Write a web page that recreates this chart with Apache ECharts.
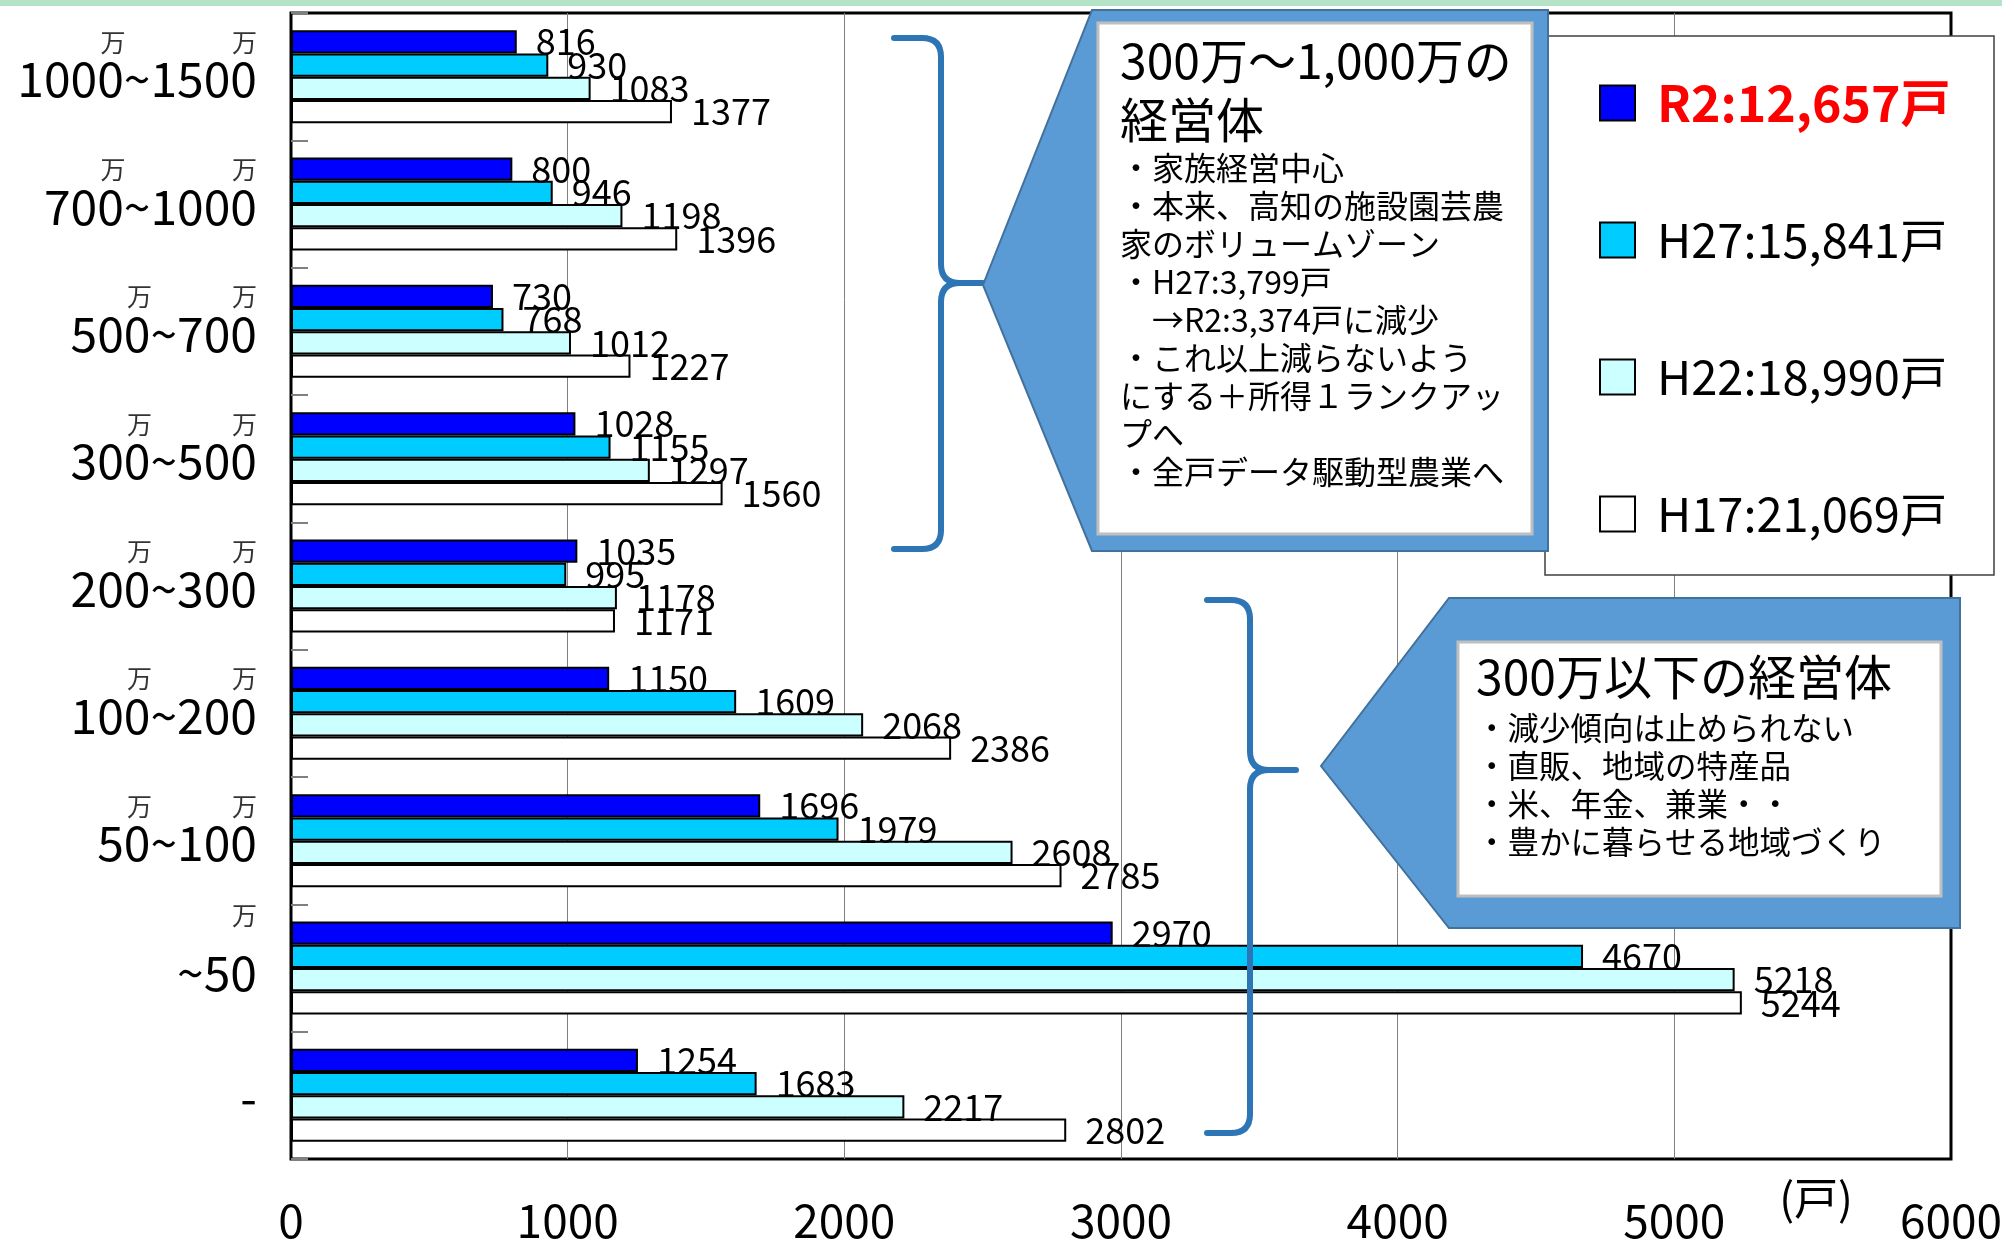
<!DOCTYPE html>
<html>
<head>
<meta charset="utf-8">
<script src="https://cdn.jsdelivr.net/npm/echarts@6/dist/echarts.min.js"></script>
<style>
html, body { margin: 0; padding: 0; background: #fff; }
#chart { width: 2002px; height: 1242px; }
</style>
</head>
<body>
<div id="chart"></div>
<script>
// 所得階層（上から）
const categories = ['1000~1500', '700~1000', '500~700', '300~500', '200~300', '100~200', '50~100', '~50', '-'];
const seriesNames = ['R2:12,657戸', 'H27:15,841戸', 'H22:18,990戸', 'H17:21,069戸'];
const r2 = [816, 800, 730, 1028, 1035, 1150, 1696, 2970, 1254];
const h27 = [930, 946, 768, 1155, 995, 1609, 1979, 4670, 1683];
const h22 = [1083, 1198, 1012, 1297, 1178, 2068, 2608, 5218, 2217];
const h17 = [1377, 1396, 1227, 1560, 1171, 2386, 2785, 5244, 2802];
const seriesData = [r2, h27, h22, h17];
const seriesColors = ['#0000FF', '#00CCFF', '#CCFFFF', '#FFFFFF'];
const unitName = '(戸)';

const note1 = ['300万～1,000万の', '経営体'];
const note1Items = ['・家族経営中心', '・本来、高知の施設園芸農', '家のボリュームゾーン', '・H27:3,799戸', '　→R2:3,374戸に減少', '・これ以上減らないよう', 'にする＋所得１ランクアッ', 'プへ', '・全戸データ駆動型農業へ'];
const note2 = '300万以下の経営体';
const note2Items = ['・減少傾向は止められない', '・直販、地域の特産品', '・米、年金、兼業・・', '・豊かに暮らせる地域づくり'];

const FONT = "'Noto Sans CJK JP', sans-serif";

const myChart = echarts.init(document.getElementById('chart'));

// 軸ラベル：上段に小さい「万」
function yLabel(value) {
  if (value === '-') return '{m| }\n{b|-}\n{e| }';
  let parts = value.split('~');
  if (parts[0] === '') return '{mt|万}\n{b|' + value + '}\n{e2| }';
  return '{m|万}{sp|~' + parts[1].slice(0, -1) + '}{m|万}\n{b|' + value + '}\n{e| }';
}

// 中括弧「}」を線と曲線で組み立てる
function brace(xl, xv, xt, top, mid, bottom) {
  let r = 19;
  let st = { stroke: '#2E75B6', lineWidth: 6, lineCap: 'round', fill: null };
  let line = (x1, y1, x2, y2) => ({ type: 'line', z: 100, shape: { x1, y1, x2, y2 }, style: st });
  let curve = (x1, y1, cx, cy, x2, y2) => ({ type: 'bezierCurve', z: 100, shape: { x1, y1, x2, y2, cpx1: cx, cpy1: cy }, style: st });
  return [
    line(xl, top, xv - r, top),
    curve(xv - r, top, xv, top, xv, top + r),
    line(xv, top + r, xv, mid - r),
    curve(xv, mid - r, xv, mid, xv + r, mid),
    line(xv + r, mid, xt, mid),
    curve(xv + r, mid, xv, mid, xv, mid + r),
    line(xv, mid + r, xv, bottom - r),
    curve(xv, bottom - r, xv, bottom, xv - r, bottom),
    line(xv - r, bottom, xl, bottom)
  ];
}

const option = {
  animation: false,
  backgroundColor: '#fff',
  textStyle: { fontFamily: FONT },
  grid: {
    left: 291, right: 51, top: 13, bottom: 83,
    outerBoundsMode: 'none',
    show: true, borderColor: '#000', borderWidth: 3
  },
  xAxis: {
    type: 'value', min: 0, max: 6000, interval: 1000,
    axisLine: { show: false },
    axisTick: { show: false },
    splitLine: { show: true, showMinLine: false, showMaxLine: false, lineStyle: { color: '#808080', width: 1 } },
    axisLabel: { fontSize: 46, color: '#000', margin: 39, fontFamily: FONT, formatter: (v) => String(v) }
  },
  yAxis: {
    type: 'category', inverse: true, data: categories,
    axisLine: { show: false },
    axisTick: { show: true, inside: true, length: 17, lineStyle: { color: '#808080', width: 2 } },
    axisLabel: {
      margin: 34, color: '#000', formatter: yLabel,
      rich: {
        m: { fontSize: 25, lineHeight: 24, color: '#333', align: 'right', fontFamily: FONT },
        mt: { fontSize: 25, lineHeight: 66, color: '#333', align: 'right', fontFamily: FONT },
        sp: { fontSize: 48, lineHeight: 24, color: 'rgba(0,0,0,0)', align: 'right', fontFamily: FONT },
        b: { fontSize: 48, lineHeight: 50, color: '#000', align: 'right', fontFamily: FONT },
        e: { fontSize: 10, lineHeight: 19, align: 'right' },
        e2: { fontSize: 10, lineHeight: 56, align: 'right' }
      }
    }
  },
  legend: {
    orient: 'vertical', left: 1594, top: 73,
    icon: 'rect', itemWidth: 35, itemHeight: 35, itemGap: 87,
    selectedMode: false, z: 95,
    itemStyle: { borderColor: '#000', borderWidth: 2 },
    textStyle: { fontSize: 47, color: '#000', lineHeight: 50, fontFamily: FONT, padding: [0, 0, 0, 17] },
    data: seriesNames.map((n, i) => i === 0
      ? { name: n, textStyle: { color: '#FF0000', fontWeight: 'bold', fontSize: 50 } }
      : n)
  },
  series: seriesNames.map((name, i) => ({
    name: name,
    type: 'bar',
    data: seriesData[i],
    barGap: '0%',
    barCategoryGap: '27%',
    itemStyle: { color: seriesColors[i], borderColor: '#000', borderWidth: 2 },
    label: { show: true, position: 'right', distance: 19, fontSize: 36, color: '#000', fontFamily: FONT }
  })),
  graphic: [
    // 上端の帯
    { type: 'rect', shape: { x: 0, y: 0, width: 2002, height: 6 }, style: { fill: '#b5e3c8' }, z: 100 },
    // 単位
    { type: 'text', x: 1816, y: 1198, z: 100, style: { text: unitName, fontSize: 44, fontFamily: FONT, fill: '#000', align: 'center', verticalAlign: 'middle' } },
    // 凡例の枠
    { type: 'rect', shape: { x: 1545, y: 36, width: 449, height: 539 }, style: { fill: '#fff', stroke: '#404040', lineWidth: 1.5 }, z: 90 },
    // 中括弧
    ...brace(894, 941, 983, 38, 283, 549),
    ...brace(1207, 1250, 1296, 600, 770, 1133),
    // 吹き出し１
    {
      type: 'polygon', z: 100,
      shape: { points: [[1092, 10], [1548, 10], [1548, 551], [1092, 551], [983, 285]] },
      style: { fill: '#5B9BD5', stroke: '#41719C', lineWidth: 2 }
    },
    { type: 'rect', z: 101, shape: { x: 1098, y: 23, width: 434, height: 511 }, style: { fill: '#fff', stroke: '#BFBFBF', lineWidth: 3 } },
    {
      type: 'text', z: 102, x: 1120, y: 31,
      style: {
        text: note1.map(t => '{big|' + t + '}').concat(note1Items.map(t => '{s|' + t + '}')).join('\n'),
        fill: '#000', fontFamily: FONT,
        rich: {
          big: { fontSize: 48, lineHeight: 59, fill: '#000', fontFamily: FONT },
          s: { fontSize: 32, lineHeight: 38, fill: '#000', fontFamily: FONT }
        }
      }
    },
    // 吹き出し２
    {
      type: 'polygon', z: 100,
      shape: { points: [[1449, 598], [1960, 598], [1960, 928], [1449, 928], [1321, 766]] },
      style: { fill: '#5B9BD5', stroke: '#41719C', lineWidth: 2 }
    },
    { type: 'rect', z: 101, shape: { x: 1458, y: 642, width: 483, height: 254 }, style: { fill: '#fff', stroke: '#BFBFBF', lineWidth: 3 } },
    {
      type: 'text', z: 102, x: 1476, y: 645,
      style: {
        text: ['{big|' + note2 + '}'].concat(note2Items.map(t => '{s|' + t + '}')).join('\n'),
        fill: '#000', fontFamily: FONT,
        rich: {
          big: { fontSize: 48, lineHeight: 64, fill: '#000', fontFamily: FONT },
          s: { fontSize: 31.5, lineHeight: 38, fill: '#000', fontFamily: FONT }
        }
      }
    }
  ]
};

myChart.setOption(option);
</script>
</body>
</html>
